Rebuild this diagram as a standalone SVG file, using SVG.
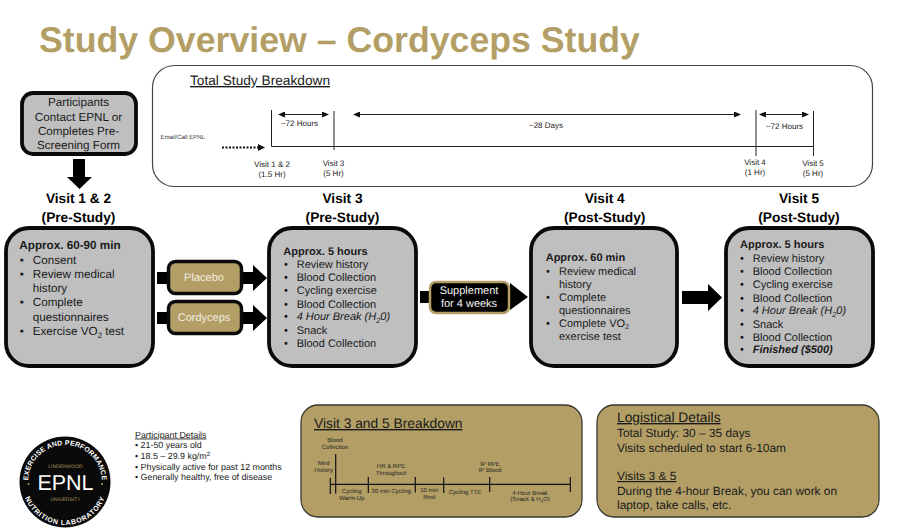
<svg xmlns="http://www.w3.org/2000/svg" width="900" height="532" viewBox="0 0 900 532">
<defs>
<style>
text{font-family:"Liberation Sans",Arial,sans-serif;fill:#1a1a1a;text-rendering:geometricPrecision}
.card{fill:#bfbfbf;stroke:#0a0a0a;stroke-width:3.8}
.head{font-weight:700;font-size:13.7px;text-anchor:middle;fill:#000}
.b{font-size:11px}
.bb{font-size:11px;font-weight:700}
.t1{font-size:8px;fill:#222;text-anchor:middle}
.t2{font-size:6px;fill:#222;text-anchor:middle}
.ln{stroke:#222;stroke-width:1;fill:none}
.ln2{stroke:#111;stroke-width:1.2;fill:none}
.gold{fill:#b39f66;stroke:#3a3a30;stroke-width:1.3}
.pill{fill:#b39f66;stroke:#0a0a0a;stroke-width:3.5}
.arr{fill:#000}
.u{text-decoration:underline}
.log{font-size:11.9px}
.p{font-size:8.9px}
.logo{fill:#fff;font-weight:700;font-size:7px}
.goldtx{fill:#a8935a;font-size:5px;text-anchor:middle}
</style>
<marker id="ah" markerWidth="7" markerHeight="6" refX="6" refY="3" orient="auto-start-reverse" markerUnits="userSpaceOnUse"><path d="M0 0L7 3L0 6Z" fill="#111"/></marker>
<path id="arcTop" d="M65 519A37 37 0 1 1 65 445A37 37 0 1 1 65 519"/>
<path id="arcBot" d="M65 439A43 43 0 1 0 65 525A43 43 0 1 0 65 439"/>
</defs>
<rect width="900" height="532" fill="#fff"/>
<text x="39" y="52" font-size="35.700" font-weight="700" style="fill:#b39f66">Study Overview – Cordyceps Study</text>

<g id="connectors">
<path class="arr" d="M73 159H85V177H92L79.500 189L67 177H73Z"/>
<path class="arr" d="M157 272H253V265L267 278L253 291V284H157Z"/>
<path class="arr" d="M157 312H253V305L267 318L253 331V324H157Z"/>
<path class="arr" d="M420 291H510V283L528 297L510 310V303H420Z"/>
<path class="arr" d="M682 291H708V284L722 297.500L708 311V304H682Z"/>
</g>

<g id="breakdown-panel">
<rect x="152.500" y="65.500" width="720" height="121" rx="22" fill="#fff" stroke="#444" stroke-width="1.200"/>
<text x="190" y="85" font-size="13.700" class="u">Total Study Breakdown</text>
<text x="160.500" y="139" font-size="6" style="fill:#333">Email/Call EPNL</text>
<path d="M222 147.500H259" stroke="#111" stroke-width="1.800" stroke-dasharray="2 1.500"/>
<path d="M258 144L265 147.500L258 151Z" fill="#111"/>
<path class="ln" d="M271.500 146.500H813.500M271.500 110V146.500M334 111V150M756 110V156M813.500 111V156"/>
<path class="ln" d="M279 114.500H328" marker-start="url(#ah)" marker-end="url(#ah)"/>
<path class="ln" d="M354 114.500H740" marker-start="url(#ah)" marker-end="url(#ah)"/>
<path class="ln" d="M760 114.500H808" marker-start="url(#ah)" marker-end="url(#ah)"/>
<text class="t1" x="299.500" y="126">~72 Hours</text>
<text class="t1" x="546" y="128">~28 Days</text>
<text class="t1" x="784.500" y="129">~72 Hours</text>
<text class="t1" x="272" y="166.700">Visit 1 &amp; 2</text><text class="t1" x="272" y="176.700">(1.5 Hr)</text>
<text class="t1" x="333.500" y="165.700">Visit 3</text><text class="t1" x="333.500" y="175.700">(5 Hr)</text>
<text class="t1" x="755" y="164.500">Visit 4</text><text class="t1" x="755" y="175">(1 Hr)</text>
<text class="t1" x="813" y="165.700">Visit 5</text><text class="t1" x="813" y="176">(5 Hr)</text>
</g>

<g id="participants">
<rect class="card" x="22" y="93" width="114" height="61" rx="11"/>
<text font-size="11.700" text-anchor="middle"><tspan x="78.500" y="106">Participants</tspan><tspan x="78.500" y="120.500">Contact EPNL or</tspan><tspan x="78.500" y="135">Completes Pre-</tspan><tspan x="78.500" y="149">Screening Form</tspan></text>
</g>

<g id="visit12">
<text class="head" x="78.500" y="203">Visit 1 &amp; 2</text>
<text class="head" x="78.500" y="221.500">(Pre-Study)</text>
<rect class="card" x="6" y="228" width="147" height="138" rx="23"/>
<text font-size="11.700"><tspan x="19.300" y="249" font-weight="700">Approx. 60-90 min</tspan>
<tspan x="19.700" y="264">•</tspan><tspan x="32.700" y="264">Consent</tspan>
<tspan x="19.700" y="278">•</tspan><tspan x="32.700" y="278">Review medical</tspan>
<tspan x="32.700" y="292">history</tspan>
<tspan x="19.700" y="306">•</tspan><tspan x="32.700" y="306">Complete</tspan>
<tspan x="32.700" y="320.500">questionnaires</tspan>
<tspan x="19.700" y="335">•</tspan><tspan x="32.700" y="335">Exercise VO</tspan><tspan font-size="7.800" dy="2.500">2</tspan><tspan dy="-2.500"> test</tspan></text>
</g>

<g id="placebo">
<rect class="pill" x="168.500" y="261.500" width="73" height="32" rx="7"/>
<text x="204" y="281" font-size="11" text-anchor="middle" style="fill:#f2eee0">Placebo</text>
</g>
<g id="cordyceps">
<rect class="pill" x="168.500" y="301.500" width="73" height="32" rx="7"/>
<text x="204" y="321" font-size="11" text-anchor="middle" style="fill:#f2eee0">Cordyceps</text>
</g>

<g id="visit3">
<text class="head" x="342.500" y="203">Visit 3</text>
<text class="head" x="342.500" y="221.500">(Pre-Study)</text>
<rect class="card" x="269" y="228" width="147" height="138" rx="23"/>
<text class="b"><tspan class="bb" x="283.300" y="255">Approx. 5 hours</tspan>
<tspan x="284" y="268.300">•</tspan><tspan x="296.700" y="268.300">Review history</tspan>
<tspan x="284" y="281">•</tspan><tspan x="296.700" y="281">Blood Collection</tspan>
<tspan x="284" y="294.300">•</tspan><tspan x="296.700" y="294.300">Cycling exercise</tspan>
<tspan x="284" y="307.700">•</tspan><tspan x="296.700" y="307.700">Blood Collection</tspan>
<tspan x="284" y="320.300">•</tspan><tspan x="296.700" y="320.300" font-style="italic">4 Hour Break (H</tspan><tspan font-style="italic" font-size="7.500" dy="2.500">2</tspan><tspan font-style="italic" dy="-2.500">0)</tspan>
<tspan x="284" y="334">•</tspan><tspan x="296.700" y="334">Snack</tspan>
<tspan x="284" y="346.700">•</tspan><tspan x="296.700" y="346.700">Blood Collection</tspan></text>
</g>

<g id="supplement">
<rect x="430" y="282" width="79" height="31" rx="6" fill="#000" stroke="#b39f66" stroke-width="2.500"/>
<text font-size="11" text-anchor="middle" style="fill:#f5f5f5"><tspan x="469" y="294.300">Supplement</tspan><tspan x="469" y="306.700">for 4 weeks</tspan></text>
</g>

<g id="visit4">
<text class="head" x="604.700" y="203">Visit 4</text>
<text class="head" x="604.700" y="221.500">(Post-Study)</text>
<rect class="card" x="531" y="228" width="146" height="138" rx="23"/>
<text class="b"><tspan class="bb" x="545.700" y="261">Approx. 60 min</tspan>
<tspan x="546" y="275">•</tspan><tspan x="559" y="275">Review medical</tspan>
<tspan x="559" y="287.700">history</tspan>
<tspan x="546" y="301">•</tspan><tspan x="559" y="301">Complete</tspan>
<tspan x="559" y="314.300">questionnaires</tspan>
<tspan x="546" y="326.700">•</tspan><tspan x="559" y="326.700">Complete VO</tspan><tspan font-size="7.500" dy="2.500">2</tspan>
<tspan x="559" y="340">exercise test</tspan></text>
</g>

<g id="visit5">
<text class="head" x="799" y="203">Visit 5</text>
<text class="head" x="799" y="221.500">(Post-Study)</text>
<rect class="card" x="726" y="228" width="147" height="138" rx="23"/>
<text class="b"><tspan class="bb" x="740" y="248.300">Approx. 5 hours</tspan>
<tspan x="740" y="261.700">•</tspan><tspan x="752.700" y="261.700">Review history</tspan>
<tspan x="740" y="275">•</tspan><tspan x="752.700" y="275">Blood Collection</tspan>
<tspan x="740" y="288.300">•</tspan><tspan x="752.700" y="288.300">Cycling exercise</tspan>
<tspan x="740" y="301.700">•</tspan><tspan x="752.700" y="301.700">Blood Collection</tspan>
<tspan x="740" y="314.300">•</tspan><tspan x="752.700" y="314.300" font-style="italic">4 Hour Break (H</tspan><tspan font-style="italic" font-size="7.500" dy="2.500">2</tspan><tspan font-style="italic" dy="-2.500">0)</tspan>
<tspan x="740" y="327.700">•</tspan><tspan x="752.700" y="327.700">Snack</tspan>
<tspan x="740" y="340.700">•</tspan><tspan x="752.700" y="340.700">Blood Collection</tspan>
<tspan x="740" y="353.300">•</tspan><tspan x="752.700" y="353.300" font-weight="700" font-style="italic">Finished ($500)</tspan></text>
</g>

<g id="logo">
<circle cx="65" cy="482" r="45.500" fill="#0a0a0a"/>
<text class="logo" letter-spacing=".15"><textPath href="#arcTop" startOffset="50%" text-anchor="middle">EXERCISE AND PERFORMANCE</textPath></text>
<text class="logo" letter-spacing=".7"><textPath href="#arcBot" startOffset="50%" text-anchor="middle">NUTRITION LABORATORY</textPath></text>
<text x="65.500" y="490" font-size="21.500" text-anchor="middle" style="fill:#fff">EPNL</text>
<text class="goldtx" x="65.500" y="467.500">LINDENWOOD</text>
<text class="goldtx" x="65.500" y="501">UNIVERSITY</text>
<circle cx="28.500" cy="484" r="1" fill="#b39f66"/><circle cx="102" cy="484" r="1" fill="#b39f66"/>
</g>

<g id="participant-details">
<text class="p"><tspan class="u" x="135" y="437.500">Participant Details</tspan>
<tspan x="135" y="448">• 21-50 years old</tspan>
<tspan x="135" y="459">• 18.5 – 29.9 kg/m</tspan><tspan font-size="6" dy="-3">2</tspan>
<tspan x="135" y="469.500">• Physically active for past 12 months</tspan>
<tspan x="135" y="480">• Generally healthy, free of disease</tspan></text>
</g>

<g id="visit-breakdown">
<rect class="gold" x="301" y="405" width="281" height="112" rx="17"/>
<text x="314" y="428" font-size="13.800" class="u">Visit 3 and 5 Breakdown</text>
<path class="ln2" d="M330 484.300H570.500M330.300 478V494M335.700 454V493.500M368.300 477V493M415.300 477V492.500M443.700 477.500V493M489.700 477V492M570.300 477V492"/>
<text class="t2" x="335" y="441.700">Blood</text><text class="t2" x="335" y="448.500">Collection</text>
<text class="t2" x="323.700" y="465">Med</text><text class="t2" x="323.700" y="471.700">History</text>
<text class="t2" x="391" y="467.700">HR &amp; RPE</text><text class="t2" x="391" y="474.700">Throughout</text>
<text class="t2" x="490" y="465.700">IP RPE</text><text class="t2" x="490" y="472.300">IP Blood</text>
<text class="t2" x="351.700" y="493.300">Cycling</text><text class="t2" x="351.700" y="500">Warm-Up</text>
<text class="t2" x="391.300" y="492.700">30 min Cycling</text>
<text class="t2" x="429.300" y="492.300">10 min</text><text class="t2" x="429.300" y="499">Rest</text>
<text class="t2" x="465" y="494.300">Cycling TTE</text>
<text class="t2" x="530" y="494.700">4-Hour Break</text>
<text class="t2" x="530" y="501.300">(Snack &amp; H<tspan font-size="4.200" dy="1.200">2</tspan><tspan dy="-1.200">O)</tspan></text>
</g>

<g id="logistics">
<rect class="gold" x="597" y="405" width="282" height="112" rx="17"/>
<text x="617" y="422" font-size="13.800" class="u">Logistical Details</text>
<text class="log"><tspan x="617" y="437">Total Study: 30 – 35 days</tspan>
<tspan x="617" y="451.500">Visits scheduled to start 6-10am</tspan>
<tspan class="u" x="617" y="480">Visits 3 &amp; 5</tspan>
<tspan x="617" y="494.500">During the 4-hour Break, you can work on</tspan>
<tspan x="617" y="508.500">laptop, take calls, etc.</tspan></text>
</g>
</svg>
